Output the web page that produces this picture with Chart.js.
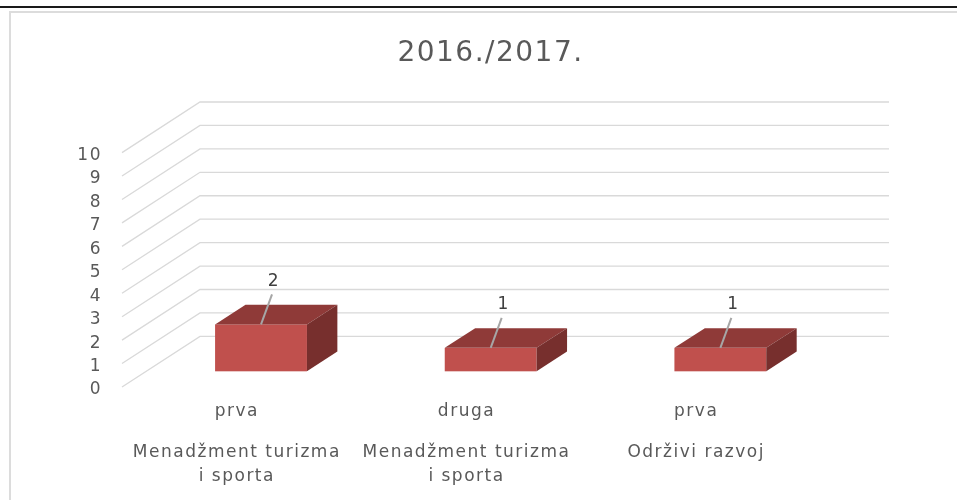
<!DOCTYPE html>
<html>
<head>
<meta charset="utf-8">
<script src="https://cdn.jsdelivr.net/npm/chart.js@4"></script>
<style>
  body { margin: 0; background: #fff; }
  #wrap { position: relative; width: 957px; height: 500px; overflow: hidden; }
  #topline { position: absolute; left: 0; top: 6px; width: 957px; height: 2px; background: #1a1a1a; }
  #frame { position: absolute; left: 9px; top: 11px; width: 1000px; height: 600px; border: 2px solid #dcdcdc; }
  canvas { position: absolute; left: 0; top: 0; }
</style>
</head>
<body>
<div id="wrap">
  <div id="topline"></div>
  <div id="frame"></div>
  <canvas id="graph" width="957" height="500"></canvas>
</div>
<script>
// data
const chartTitle = "2016./2017.";
const levels = ["prva", "druga", "prva"];
const programmes = [["Menadžment turizma", "i sporta"], ["Menadžment turizma", "i sporta"], ["Održivi razvoj"]];
const counts = [2, 1, 1];
const yMin = 0, yMax = 10, yStep = 1;

// 3d look: depth of the floor and where the boxes sit in it
const depth = { dx: 78, dy: -50.6, front: 0.31, back: 0.70 };

const box3d = {
    id: "box3d",
    beforeUpdate(chart) { chart.ctx.letterSpacing = "1.5px"; },
    beforeDraw(chart) { chart.ctx.letterSpacing = "1.5px"; },
    beforeDatasetsDraw(chart) {
        const ctx = chart.ctx;
        const x = chart.scales.x, y = chart.scales.y;
        ctx.save();
        ctx.strokeStyle = "#d9d9d9";
        ctx.lineWidth = 1.3;
        y.ticks.forEach(t => {
            const py = y.getPixelForValue(t.value);
            ctx.beginPath();
            ctx.moveTo(x.left, py);
            ctx.lineTo(x.left + depth.dx, py + depth.dy);
            ctx.lineTo(x.right + depth.dx, py + depth.dy);
            ctx.stroke();
        });
        ctx.restore();
    },
    afterDatasetsDraw(chart) {
        const ctx = chart.ctx;
        const meta = chart.getDatasetMeta(0);
        const ox = depth.dx * depth.front, oy = depth.dy * depth.front;
        const bx = depth.dx * (depth.back - depth.front), by = depth.dy * (depth.back - depth.front);
        ctx.save();
        meta.data.forEach((bar, i) => {
            const l = bar.x - bar.width / 2 + ox, r = bar.x + bar.width / 2 + ox;
            const top = bar.y + oy, base = bar.base + oy;

            // front
            ctx.fillStyle = "#c0504d";
            ctx.fillRect(l, top, r - l, base - top);

            // top
            ctx.fillStyle = "#8f3a38";
            ctx.beginPath();
            ctx.moveTo(l, top);
            ctx.lineTo(r, top);
            ctx.lineTo(r + bx, top + by);
            ctx.lineTo(l + bx, top + by);
            ctx.closePath();
            ctx.fill();

            // side
            ctx.fillStyle = "#772f2d";
            ctx.beginPath();
            ctx.moveTo(r, top);
            ctx.lineTo(r + bx, top + by);
            ctx.lineTo(r + bx, base + by);
            ctx.lineTo(r, base);
            ctx.closePath();
            ctx.fill();

            // value label with leader line
            const cx = bar.x + ox;
            ctx.strokeStyle = "#a6a6a6";
            ctx.lineWidth = 2;
            ctx.beginPath();
            ctx.moveTo(cx, top);
            ctx.lineTo(cx + 11, top - 30);
            ctx.stroke();
            ctx.fillStyle = "#404040";
            ctx.font = "17px 'DejaVu Sans'";
            ctx.textAlign = "center";
            ctx.textBaseline = "middle";
            ctx.fillText(String(counts[i]), cx + 13, top - 43);
        });
        ctx.restore();
    }
};

Chart.defaults.font.family = "'DejaVu Sans', sans-serif";

const ctx = document.getElementById("graph").getContext("2d");
window.myChart = new Chart(ctx, {
    type: "bar",
    data: {
        labels: levels,
        datasets: [{
            label: chartTitle,
            data: counts,
            backgroundColor: "rgba(0,0,0,0)",
            borderWidth: 0,
            categoryPercentage: 1,
            barPercentage: 0.4
        }]
    },
    options: {
        responsive: false,
        animation: false,
        events: [],
        layout: { padding: { left: 24, right: 0, top: 0, bottom: 0 } },
        plugins: {
            legend: { display: false },
            tooltip: { enabled: false },
            title: {
                display: true,
                text: chartTitle,
                color: "#595959",
                font: { size: 28, weight: "normal" },
                padding: { top: 37, bottom: 82 }
            }
        },
        scales: {
            y: {
                min: yMin,
                max: yMax,
                ticks: { stepSize: yStep, color: "#595959", font: { size: 17 }, padding: 20, labelOffset: 3 },
                grid: { display: false, drawTicks: false },
                border: { display: false },
                afterFit: s => { s.width = 98; }
            },
            // empty right axis, only keeps room for the depth of the walls
            yRoom: {
                type: "linear",
                position: "right",
                ticks: { display: false },
                grid: { display: false, drawTicks: false },
                border: { display: false },
                afterFit: s => { s.width = 146; }
            },
            x: {
                ticks: { color: "#595959", font: { size: 17, lineHeight: 1.45 }, padding: 12, maxRotation: 0, autoSkip: false },
                grid: { display: false, drawTicks: false },
                border: { display: false },
                afterFit: s => { s.height = 40; }
            },
            x2: {
                type: "category",
                position: "bottom",
                labels: programmes,
                offset: true,
                ticks: { color: "#595959", font: { size: 17, lineHeight: 1.45 }, padding: 13, maxRotation: 0, autoSkip: false },
                grid: { display: false, drawTicks: false },
                border: { display: false },
                afterFit: s => { s.height = 73; }
            }
        }
    },
    plugins: [box3d]
});
</script>
</body>
</html>
